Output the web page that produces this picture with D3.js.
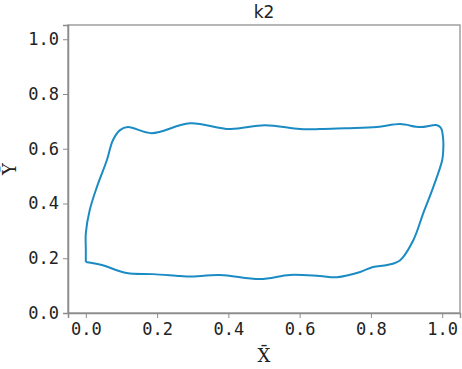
<!DOCTYPE html>
<html>
<head>
<meta charset="utf-8">
<script src="https://cdn.jsdelivr.net/npm/d3@7"></script>
<style>
  body { margin: 0; background: #fff; }
  .axis text { font-family: "DejaVu Sans Mono", monospace; font-size: 17px; }
  .axis line, .axis path { stroke: #8c8c8c; }
</style>
</head>
<body>
<svg id="svg" width="462" height="369"></svg>
<script>
// closed loop k2 (bottom left corner, along the bottom, up the right, back over the top)
var loopX = [0.000, 0.045, 0.115, 0.188, 0.264, 0.292, 0.376, 0.489, 0.573, 0.657, 0.705, 0.770, 0.806, 0.846, 0.882,
             0.919, 0.947, 0.975, 1.000, 1.003, 1.003, 0.997, 0.986, 0.938, 0.882, 0.817, 0.728, 0.657, 0.601, 0.503,
             0.404, 0.292, 0.185, 0.118, 0.096, 0.076, 0.059, 0.031, 0.011, 0.000, 0.000, 0.000];
var loopY = [0.186, 0.175, 0.146, 0.142, 0.135, 0.133, 0.139, 0.124, 0.139, 0.135, 0.131, 0.150, 0.168, 0.175, 0.193,
             0.266, 0.365, 0.460, 0.558, 0.595, 0.631, 0.675, 0.686, 0.679, 0.690, 0.679, 0.675, 0.672, 0.672, 0.686,
             0.672, 0.693, 0.657, 0.679, 0.668, 0.631, 0.558, 0.460, 0.376, 0.292, 0.230, 0.186];
var xTicks = [0, 0.2, 0.4, 0.6, 0.8, 1.0];
var yTicks = [0, 0.2, 0.4, 0.6, 0.8, 1.0];
var title = "k2";

var svg = d3.select("#svg"),
    margin = {top: 25, right: 2, bottom: 56, left: 68},
    width = +svg.attr("width") - margin.left - margin.right,
    height = +svg.attr("height") - margin.top - margin.bottom,
    g = svg.append("g").attr("transform", "translate(" + margin.left + "," + margin.top + ")");

var x = d3.scaleLinear().domain([-0.05, 1.05]).range([0, width]);
var y = d3.scaleLinear().domain([0, 1.052]).range([height, 0]);

var pts = loopX.map(function(d, i) { return [d, loopY[i]]; });

// frame
g.append("rect")
    .attr("width", width)
    .attr("height", height)
    .attr("fill", "none")
    .attr("stroke", "#a0a0a0")
    .attr("stroke-width", 1.5);

var line = d3.line()
    .x(function(d) { return x(d[0]); })
    .y(function(d) { return y(d[1]); })
    .curve(d3.curveCatmullRom.alpha(0.5));

g.append("path")
    .datum(pts)
    .attr("d", line)
    .attr("fill", "none")
    .attr("stroke", "#1b8bc3")
    .attr("stroke-width", 2);

var fmt = d3.format(".1f");

g.append("g")
    .attr("class", "axis")
    .attr("transform", "translate(0," + height + ")")
    .call(d3.axisBottom(x).tickValues(xTicks).tickFormat(fmt).tickSizeOuter(0).tickSize(5).tickPadding(5))
    .call(function(a) { a.select(".domain").attr("stroke-width", 1.5); });

g.append("g")
    .attr("class", "axis")
    .call(d3.axisLeft(y).tickValues(yTicks).tickFormat(fmt).tickSizeOuter(0).tickSize(5).tickPadding(4))
    .call(function(a) { a.select(".domain").attr("stroke-width", 1.5); });

svg.selectAll(".axis text").attr("fill", "#222");

// title and labels
svg.append("text")
    .attr("x", margin.left + width / 2)
    .attr("y", 18)
    .attr("text-anchor", "middle")
    .attr("font-family", "DejaVu Sans")
    .attr("font-size", 17)
    .attr("fill", "#222")
    .text(title);

svg.append("text")
    .attr("x", margin.left + width / 2)
    .attr("y", 362)
    .attr("text-anchor", "middle")
    .attr("font-family", "DejaVu Serif")
    .attr("font-size", 18)
    .attr("fill", "#222")
    .text("X\u0304");

svg.append("text")
    .attr("transform", "translate(16," + (margin.top + height / 2) + ") rotate(-90)")
    .attr("text-anchor", "middle")
    .attr("font-family", "DejaVu Serif")
    .attr("font-size", 18)
    .attr("fill", "#222")
    .text("Y\u0304");
</script>
</body>
</html>
